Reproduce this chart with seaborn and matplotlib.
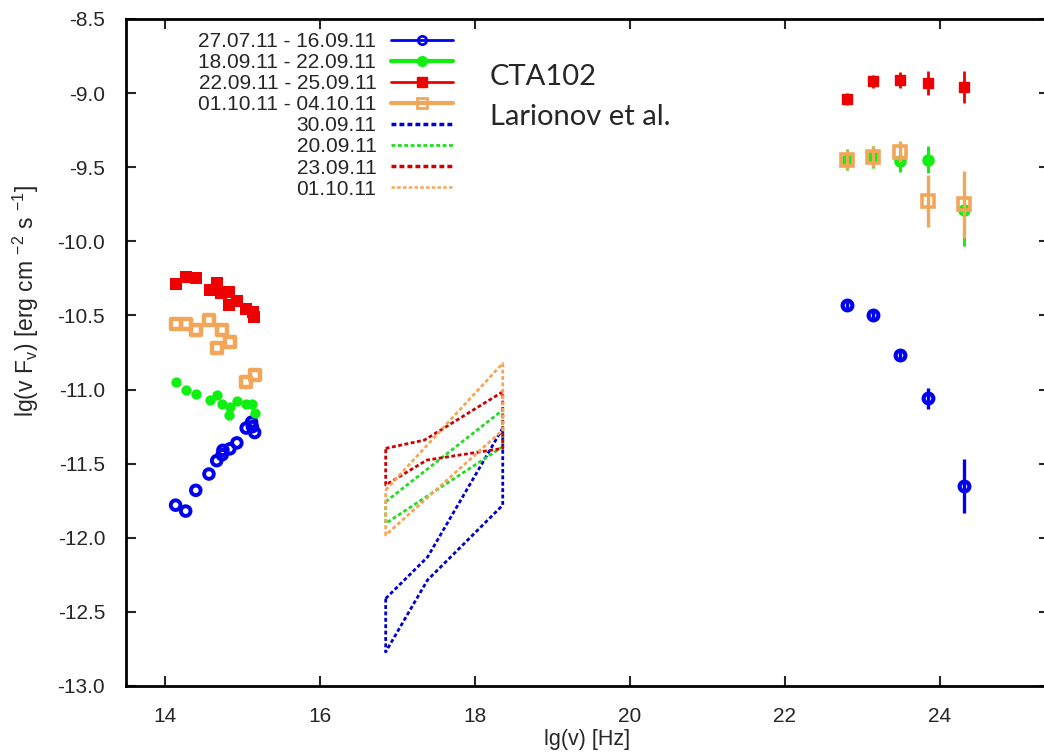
import seaborn as sns
import matplotlib.pyplot as plt
from matplotlib.lines import Line2D

# optical points: lg(nu) [Hz], lg(nu F_nu)
opt_blue_x = [14.14, 14.27, 14.40, 14.57, 14.67, 14.74, 14.75, 14.84, 14.93, 15.05, 15.12, 15.16, 15.13]
opt_blue_y = [-11.78, -11.82, -11.68, -11.57, -11.48, -11.44, -11.41, -11.40, -11.36, -11.26, -11.22, -11.29, -11.25]
opt_green_x = [14.14, 14.27, 14.40, 14.58, 14.67, 14.74, 14.84, 14.93, 14.83, 15.05, 15.13, 15.16]
opt_green_y = [-10.95, -11.00, -11.03, -11.07, -11.04, -11.10, -11.12, -11.08, -11.17, -11.10, -11.10, -11.16]
opt_red_x = [14.15, 14.27, 14.40, 14.58, 14.67, 14.73, 14.83, 14.83, 14.93, 15.05, 15.14, 15.15]
opt_red_y = [-10.29, -10.24, -10.25, -10.33, -10.28, -10.35, -10.34, -10.43, -10.40, -10.46, -10.48, -10.51]
opt_orange_x = [14.14, 14.27, 14.40, 14.57, 14.74, 14.84, 14.67, 15.05, 15.16]
opt_orange_y = [-10.56, -10.56, -10.60, -10.53, -10.60, -10.68, -10.72, -10.95, -10.90]

# Fermi-LAT points
gam_x = [22.80, 23.14, 23.48, 23.84, 24.31]
gam_blue_y = [-10.43, -10.50, -10.77, -11.06, -11.65]
gam_blue_err = [0.02, 0.02, 0.03, 0.07, 0.18]
gam_green_y = [-9.45, -9.43, -9.46, -9.45, -9.79]
gam_green_err = [0.07, 0.075, 0.07, 0.09, 0.24]
gam_red_y = [-9.04, -8.92, -8.91, -8.93, -8.96]
gam_red_err = [0.04, 0.045, 0.054, 0.08, 0.11]
gam_orange_y = [-9.45, -9.43, -9.395, -9.73, -9.75]
gam_orange_err = [0.065, 0.07, 0.07, 0.175, 0.225]

# X-ray bowties (closed outlines)
bt_blue_x = [16.85, 17.39, 18.36, 18.36, 17.39, 16.85, 16.85]
bt_blue_y = [-12.41, -12.13, -11.26, -11.78, -12.285, -12.77, -12.41]
bt_green_x = [16.85, 18.36, 18.36, 16.85, 16.85]
bt_green_y = [-11.757, -11.138, -11.386, -11.903, -11.757]
bt_red_x = [16.85, 17.35, 18.36, 18.36, 17.38, 16.85, 16.85]
bt_red_y = [-11.397, -11.341, -11.015, -11.397, -11.476, -11.644, -11.397]
bt_orange_x = [16.85, 18.36, 18.36, 16.85, 16.85]
bt_orange_y = [-11.678, -10.823, -11.273, -11.982, -11.678]

labels = ["27.07.11 - 16.09.11", "18.09.11 - 22.09.11", "22.09.11 - 25.09.11",
          "01.10.11 - 04.10.11", "30.09.11", "20.09.11", "23.09.11", "01.10.11"]

BLUE = "#0000ee"
GREEN = "#11ee11"
RED = "#ee0000"
ORANGE = "#f2a65a"
DBLUE = "#0000cc"
DGREEN = "#22dd22"
DRED = "#cc0000"

sns.set_style("ticks")
plt.rcParams["font.family"] = ["Liberation Sans", "DejaVu Sans"]
plt.rcParams["mathtext.default"] = "regular"
plt.rcParams["axes.unicode_minus"] = False

fig = plt.figure(figsize=(10.44, 7.53), dpi=100)
ax = fig.add_axes([126 / 1044, 0.089, (1049 - 126) / 1044, 0.8858])

# optical
sns.scatterplot(x=opt_blue_x, y=opt_blue_y, ax=ax, marker="o", s=48, color=BLUE,
                facecolor="none", edgecolor=BLUE, linewidth=2.8, zorder=4)
sns.scatterplot(x=opt_green_x, y=opt_green_y, ax=ax, marker="o", s=55, color=GREEN,
                edgecolor=GREEN, linewidth=0, zorder=4)
sns.scatterplot(x=opt_red_x, y=opt_red_y, ax=ax, marker="s", s=65, color=RED,
                edgecolor=RED, linewidth=0, zorder=4)
sns.scatterplot(x=opt_orange_x, y=opt_orange_y, ax=ax, marker="s", s=50, color=ORANGE,
                facecolor="none", edgecolor=ORANGE, linewidth=3.2, zorder=4)

# gamma rays
ax.errorbar(gam_x, gam_blue_y, yerr=gam_blue_err, fmt="o", color=BLUE, mfc="none",
            mew=3.0, ms=7, elinewidth=2.4, capsize=0, zorder=4)
ax.errorbar(gam_x, gam_green_y, yerr=gam_green_err, fmt="o", color=GREEN, ms=8,
            elinewidth=2.2, capsize=0, zorder=4)
ax.errorbar(gam_x, gam_red_y, yerr=gam_red_err, fmt="s", color=RED, ms=7.5,
            elinewidth=2.0, capsize=0, zorder=4)
ax.errorbar(gam_x, gam_orange_y, yerr=gam_orange_err, fmt="s", color=ORANGE, mfc="none",
            mew=2.6, ms=8, elinewidth=2.4, capsize=0, zorder=5)

# bowties
dash = (0, (1.4, 0.9))
for bx, by, c in [(bt_blue_x, bt_blue_y, DBLUE), (bt_green_x, bt_green_y, DGREEN),
                  (bt_red_x, bt_red_y, DRED), (bt_orange_x, bt_orange_y, ORANGE)]:
    sns.lineplot(x=bx, y=by, ax=ax, sort=False, estimator=None, color=c,
                 lw=2.0, linestyle=dash, zorder=3)

ax.set_xlim(13.5, 14 + (1049 - 165) / 77.5)
ax.set_ylim(-13.0, -8.5)
ax.set_xticks([14, 16, 18, 20, 22, 24])
ax.set_yticks([-13.0, -12.5, -12.0, -11.5, -11.0, -10.5, -10.0, -9.5, -9.0, -8.5])
ax.yaxis.set_major_formatter(plt.FormatStrFormatter("%.1f"))
ax.tick_params(direction="in", length=7, width=1.5, top=True, right=True,
               labelsize=15, pad=15)
for sp in ax.spines.values():
    sp.set_linewidth(2.0)
    sp.set_color("black")
ax.spines["right"].set_visible(False)

ax.set_xlabel("lg(v) [Hz]", fontsize=15.5, labelpad=2)
ax.set_ylabel("lg(v F$_v$) [erg cm $^{-2}$ s $^{-1}$]", fontsize=16.5)
ax.yaxis.set_label_coords(-0.0925, 0.577)

handles = [
    Line2D([], [], color=BLUE, lw=2, marker="o", mfc="none", mew=2, ms=6),
    Line2D([], [], color=GREEN, lw=3, marker="o", ms=7),
    Line2D([], [], color=RED, lw=2, marker="s", ms=7),
    Line2D([], [], color=ORANGE, lw=3, marker="s", mfc="none", mew=2, ms=7),
    Line2D([], [], color=DBLUE, lw=2.5, linestyle=dash),
    Line2D([], [], color=DGREEN, lw=2.0, linestyle=dash),
    Line2D([], [], color=DRED, lw=2.5, linestyle=dash),
    Line2D([], [], color=ORANGE, lw=1.8, linestyle=dash),
]
leg = ax.legend(handles, labels, loc="upper left", bbox_to_anchor=(198 / 1044, 1 - 32 / 753),
                bbox_transform=fig.transFigure, frameon=False, fontsize=15,
                markerfirst=False, handlelength=3.0, handletextpad=0.7,
                labelspacing=0.1, borderpad=0, borderaxespad=0)
leg._legend_box._children[-1]._children[0].align = "right"

fig.text(490 / 1044, 1 - 85 / 753, "CTA102", fontsize=21, family="Lato", va="baseline")
fig.text(490 / 1044, 1 - 125 / 753, "Larionov et al.", fontsize=21, family="Lato",
         va="baseline")

fig.savefig("out.png", dpi=100, facecolor="white")
